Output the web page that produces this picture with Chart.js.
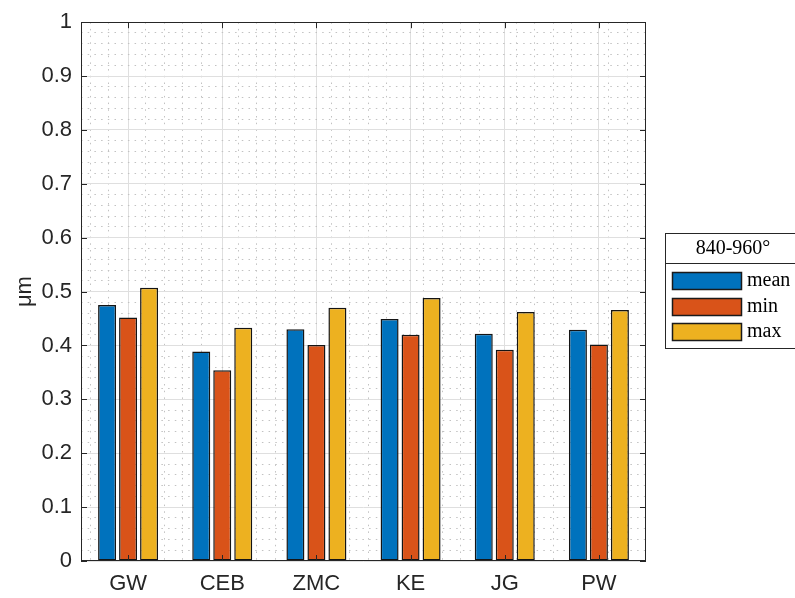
<!DOCTYPE html>
<html><head><meta charset="utf-8">
<script src="https://cdn.jsdelivr.net/npm/chart.js@4/dist/chart.umd.min.js"></script>
<style>html,body{margin:0;padding:0;background:#fff}#wrap{width:795px;height:598px}</style>
</head><body><div id="wrap"><canvas id="c" width="795" height="598"></canvas></div>
<script>
const categories = ['GW','CEB','ZMC','KE','JG','PW'];
const meanVals = [0.475, 0.389, 0.430, 0.449, 0.422, 0.429];
const minVals  = [0.452, 0.354, 0.401, 0.420, 0.392, 0.402];
const maxVals  = [0.507, 0.433, 0.470, 0.488, 0.462, 0.466];
const seriesNames = ['mean', 'min', 'max'];
const seriesColors = ['#0072BD', '#D95319', '#EDB120'];
const legendTitle = '840-960°';
const yAxisTitle = 'μm';

const AX = '#262626';
const sansFont = {family: 'Liberation Sans, Arial, sans-serif', size: 22};
const CLEAR = 'rgba(0,0,0,0)';
const MINOR = '#c2c2c2';

const boxPlugin = {
  id: 'box',
  afterDraw(chart) {
    const {ctx, chartArea: a} = chart;
    const xs = chart.scales.x, ys = chart.scales.y;
    ctx.save();
    ctx.strokeStyle = AX; ctx.lineWidth = 1;
    ctx.strokeRect(Math.round(a.left) + 0.5, Math.round(a.top) + 0.5,
                   Math.round(a.right - a.left) - 1, Math.round(a.bottom - a.top) - 1);
    ctx.beginPath();
    const tl = 6;
    ys.ticks.forEach(t => {
      const y = Math.round(ys.getPixelForValue(t.value)) + 0.5;
      ctx.moveTo(a.left, y); ctx.lineTo(a.left + tl, y);
      ctx.moveTo(a.right, y); ctx.lineTo(a.right - tl, y);
    });
    xs.ticks.forEach((t, i) => {
      const x = Math.round(xs.getPixelForTick(i)) + 0.5;
      ctx.moveTo(x, a.top); ctx.lineTo(x, a.top + tl);
      ctx.moveTo(x, a.bottom); ctx.lineTo(x, a.bottom - tl);
    });
    ctx.stroke();

    // legend
    const L = 665.5, T = 233.5, R = 805, B = 348.5, D = 263.5;
    ctx.fillStyle = '#fff';
    ctx.fillRect(L, T, R - L, B - T);
    ctx.strokeStyle = AX;
    ctx.strokeRect(L, T, R - L, B - T);
    ctx.beginPath(); ctx.moveTo(L, D); ctx.lineTo(R, D); ctx.stroke();
    ctx.fillStyle = '#000';
    ctx.font = '20px "Liberation Serif", "DejaVu Serif", serif';
    ctx.textAlign = 'center'; ctx.textBaseline = 'middle';
    ctx.fillText(legendTitle, 733, 249);
    ctx.textAlign = 'left';
    chart.data.datasets.forEach((ds, i) => {
      const top = Math.round(272 + i * 25.5);
      ctx.fillStyle = ds.backgroundColor;
      ctx.fillRect(672.5, top + 0.5, 69, 17);
      ctx.strokeStyle = '#1a1a1a';
      ctx.lineWidth = 1.5;
      ctx.strokeRect(672.5, top + 0.5, 69, 17);
      ctx.fillStyle = '#000';
      ctx.fillText(ds.label, 747, top + 9);
    });
    ctx.restore();
  }
};

new Chart(document.getElementById('c'), {
  type: 'bar',
  data: {
    labels: categories,
    datasets: [meanVals, minVals, maxVals].map((d, i) => ({
      label: seriesNames[i], data: d,
      backgroundColor: seriesColors[i], borderColor: '#141414', borderWidth: 1.5,
      borderSkipped: false,
      categoryPercentage: 0.669, barPercentage: 0.857
    }))
  },
  options: {
    responsive: false, animation: false, devicePixelRatio: 1,
    layout: {padding: {top: 20, right: 149, left: 0, bottom: 0}},
    plugins: {legend: {display: false}, tooltip: {enabled: false}},
    scales: {
      x: {
        type: 'category', offset: true,
        grid: {offset: false, color: '#dfdfdf', drawTicks: false},
        border: {display: false},
        ticks: {font: sansFont, color: AX, padding: 10, autoSkip: false, maxRotation: 0},
        afterFit: s => { s.height = 37; }
      },
      xm: {
        type: 'linear', position: 'bottom', min: 0.5, max: 6.5,
        ticks: {display: false, stepSize: 0.1, autoSkip: false},
        grid: {drawTicks: false, color: c => {
          if (!c.tick) return CLEAR;
          const k = Math.round(c.tick.value * 10);
          return (k % 2 === 0 && k % 10 !== 0) ? MINOR : CLEAR;
        }},
        border: {display: false, dash: [1.5, 5.2]},
        afterFit: s => { s.height = 0; }
      },
      y: {
        type: 'linear', min: 0, max: 1, position: 'left',
        ticks: {stepSize: 0.1, font: sansFont, color: AX, padding: 9, autoSkip: false,
                callback: v => (Math.round(v * 10) / 10).toString()},
        grid: {color: '#dfdfdf', drawTicks: false},
        border: {display: false},
        title: {display: true, text: yAxisTitle, font: sansFont, color: AX, padding: {top: 12, bottom: 0}},
        afterFit: s => { s.width = 81; }
      },
      ym: {
        type: 'linear', min: 0, max: 1, position: 'left',
        ticks: {display: false, stepSize: 0.02, autoSkip: false},
        grid: {drawTicks: false, color: c => {
          if (!c.tick) return CLEAR;
          const k = Math.round(c.tick.value * 50);
          return (k % 5 !== 0) ? MINOR : CLEAR;
        }},
        border: {display: false, dash: [1.5, 5.2]},
        afterFit: s => { s.width = 0; }
      }
    }
  },
  plugins: [boxPlugin]
});
</script></body></html>
